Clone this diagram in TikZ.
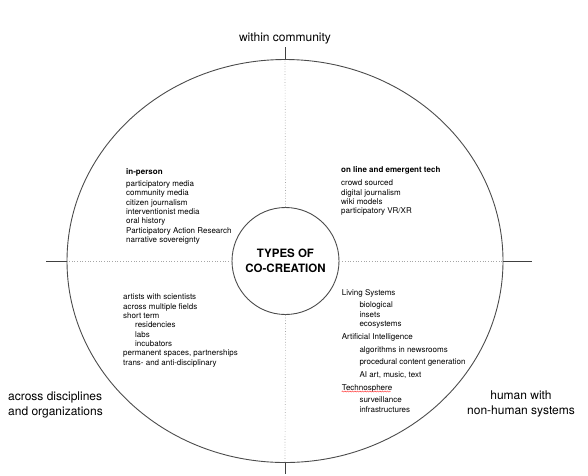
\documentclass[tikz,border=0pt]{standalone}
\usepackage{fontspec}
\setmainfont{TeX Gyre Heros}
\usetikzlibrary{positioning,shapes.geometric,decorations.pathmorphing}

\begin{document}
\begin{tikzpicture}[x=1pt, y=-1pt,
    rim/.style={draw=black!70, line width=0.9pt, inner sep=0pt},
    axis/.style={draw=black!35, dotted, line width=0.7pt},
    tick/.style={draw=black!75, line width=0.9pt},
    items/.style={anchor=base west, align=left, inner sep=0pt, font=\fontsize{8}{9.3}\selectfont},
    corner/.style={inner sep=0pt, font=\fontsize{12}{15}\selectfont}]
\useasboundingbox (0,0) rectangle (588,475);
\node[rim, ellipse, minimum width=436pt, minimum height=403pt] (oval) at (285,261) {};
\node[rim, circle, minimum size=107pt, fill=white, align=center,
      font=\bfseries\fontsize{11.5}{15.5}\selectfont] (core) at (285.5,261) {TYPES OF\\CO-CREATION};
\coordinate (n) at (oval.north |- 0,47);
\coordinate (s) at (oval.south |- 0,474);
\coordinate (w) at (46,261);
\coordinate (e) at (532,261);
\draw[tick] (oval.north) -- (n);
\draw[tick] (oval.south) -- (s);
\draw[tick] (oval.west) -- (w);
\draw[tick] (oval.east) -- (e);
\draw[axis] (core.north) -- (oval.north);
\draw[axis] (core.south) -- (oval.south);
\draw[axis] (core.west) -- (oval.west);
\draw[axis] (core.east) -- (oval.east);
\node[corner, above=2.5pt of n] (within) {within community};
\node[corner, align=left, anchor=base west] (across) at (8,415) {across disciplines\\and organizations};
\node[corner, align=center, anchor=base] (human) at (521,414.7) {human with\\non-human systems};
\node[items] (inperson) at (126,242.4) {\textbf{in-person}\\[3.3pt]
    participatory media\\community media\\citizen journalism\\interventionist media\\
    oral history\\Participatory Action Research\\narrative sovereignty};
\node[items] (online) at (341,213.7) {\textbf{on line and emergent tech}\\[3.7pt]
    crowd sourced\\digital journalism\\wiki models\\participatory VR/XR};
\node[items] (disciplines) at (123,365) {artists with scientists\\across multiple fields\\short term\\
    \hspace*{12pt}residencies\\\hspace*{12pt}labs\\\hspace*{12pt}incubators\\
    permanent spaces, partnerships\\trans- and anti-disciplinary};
\node[items] (nonhuman) at (341.7,412) {Living Systems\\[2.7pt]
    \hspace*{17.6pt}biological\\\hspace*{17.6pt}insets\\\hspace*{17.6pt}ecosystems\\[3.7pt]
    Artificial Intelligence\\[3.7pt]
    \hspace*{17.6pt}algorithms in newsrooms\\[3pt]
    \hspace*{17.6pt}procedural content generation\\[3.4pt]
    \hspace*{17.6pt}AI art, music, text\\[3.7pt]
    Technosphere\\[3pt]
    \hspace*{17.6pt}surveillance\\\hspace*{17.6pt}infrastructures};
\coordinate (squiggleA) at (341.7,391.5);
\coordinate (squiggleB) at (390.5,391.5);
\draw[red!80, line width=0.5pt, decorate, decoration={snake, amplitude=0.6pt, segment length=2.5pt}]
    (squiggleA) -- (squiggleB);
\end{tikzpicture}
\end{document}
